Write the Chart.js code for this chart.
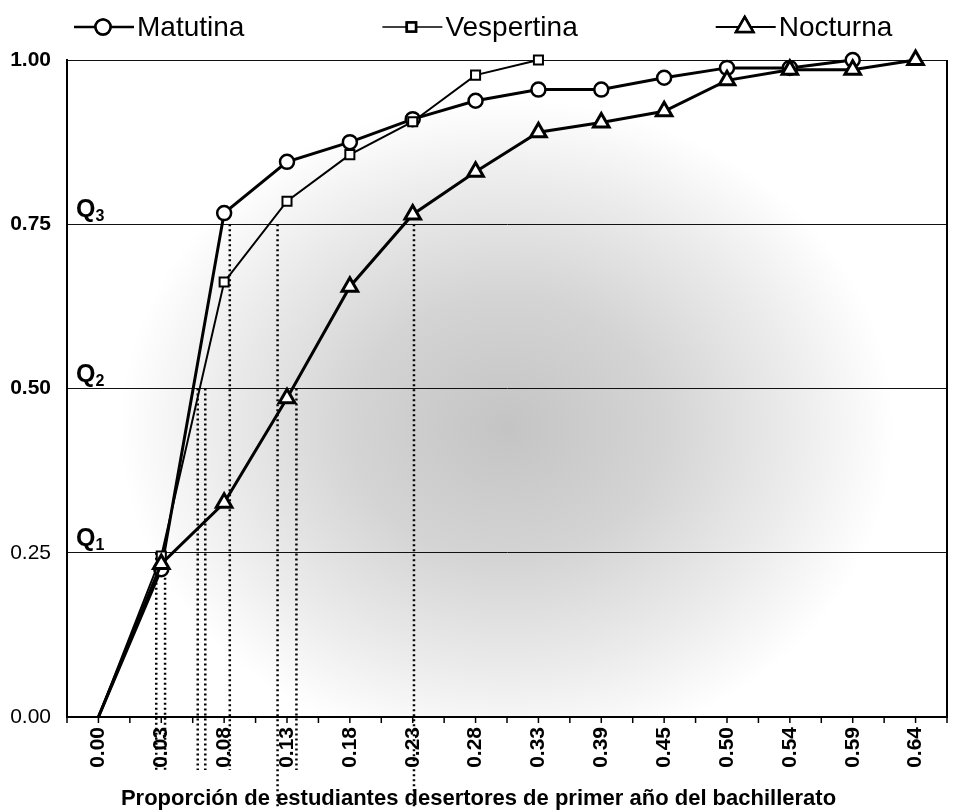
<!DOCTYPE html>
<html><head><meta charset="utf-8">
<script src="https://cdn.jsdelivr.net/npm/chart.js@4.4.0/dist/chart.umd.min.js"></script>
<style>html,body{margin:0;padding:0;background:#fff}#wrap{width:959px;height:810px;position:relative}</style>
</head><body><div id="wrap"><canvas id="c"></canvas></div>
<script>
// ---- data ----
const categories = ['0.00','0.03','0.08','0.13','0.18','0.23','0.28','0.33','0.39','0.45','0.50','0.54','0.59','0.64'];
const seriesNames = ['Matutina','Vespertina','Nocturna'];
const matutina   = [0, 0.225, 0.767, 0.845, 0.875, 0.91, 0.938, 0.955, 0.955, 0.973, 0.988, 0.988, 1.0, null];
const vespertina = [0, 0.245, 0.662, 0.785, 0.856, 0.906, 0.977, 1.0, null, null, null, null, null, null];
const nocturna   = [0, 0.233, 0.326, 0.485, 0.655, 0.765, 0.83, 0.89, 0.905, 0.922, 0.969, 0.985, 0.985, 1.0];
const yTicks = [0, 0.25, 0.5, 0.75, 1.0];
const yBoldTicks = [0.5, 0.75, 1.0];
const quartileLevels = [0.25, 0.5, 0.75];
// where the dotted quartile guides meet the category axis (category-index units)
const quartileCuts = [[0.92, 1.06], [1.58, 1.70, 3.15], [2.09, 2.85, 5.02]];
const longCuts = [2.85, 5.02];
const xTitle = 'Proporción de estudiantes desertores de primer año del bachillerato';

const FAM = "'Liberation Sans', Arial, Helvetica, sans-serif";
Chart.defaults.font.family = FAM;
Chart.defaults.color = '#000';

const markerStyles = [
  {pointStyle:'circle', radius:7, pb:2.5, lw:3, legendLW:2.5, legendR:7.5},
  {pointStyle:'rect', radius:6.4, pb:2, lw:2, legendLW:1.5, legendR:6.5},
  {pointStyle:'triangle', radius:9, pb:3, lw:3, legendLW:2, legendR:10}
];

function drawMarker(ctx, style, x, y, r, bw){
  ctx.save();
  ctx.lineWidth = bw; ctx.strokeStyle = '#000'; ctx.fillStyle = '#fff';
  Chart.helpers.drawPoint(ctx, {pointStyle: style, radius: r, borderWidth: bw, rotation: 0}, x, y);
  ctx.fill(); ctx.stroke();
  ctx.restore();
}

const decor = {
  id: 'decor',
  beforeDraw(chart){
    const {ctx, chartArea:a} = chart;
    ctx.save();
    ctx.fillStyle = '#fff'; ctx.fillRect(0,0,chart.width,chart.height);
    ctx.beginPath(); ctx.rect(a.left, a.top, a.right-a.left, a.bottom-a.top); ctx.clip();
    const cx = a.left + (a.right-a.left)*0.5, cy = a.top + (a.bottom-a.top)*0.56;
    const rx = (a.right-a.left)*0.44, ry = (a.bottom-a.top)*0.5;
    ctx.translate(cx, cy); ctx.scale(rx/ry, 1);
    const g = ctx.createRadialGradient(0,0,0,0,0,ry);
    g.addColorStop(0,'rgb(196,196,196)');
    g.addColorStop(0.4,'rgb(212,212,212)');
    g.addColorStop(0.75,'rgb(236,236,236)');
    g.addColorStop(1,'rgb(255,255,255)');
    ctx.fillStyle = g; ctx.fillRect(-ry*3,-ry*3,ry*6,ry*6);
    ctx.restore();
  },
  beforeDatasetsDraw(chart){
    const {ctx, chartArea:a, scales:{x, y}} = chart;
    ctx.save();
    // right border
    ctx.strokeStyle = '#000'; ctx.lineWidth = 2;
    ctx.beginPath(); ctx.moveTo(a.right, a.top); ctx.lineTo(a.right, a.bottom); ctx.stroke();
    // half-category tick marks under the axis
    ctx.lineWidth = 1.5;
    for (let v = -0.5; v <= categories.length - 0.5 + 1e-9; v += 0.5){
      const px = x.getPixelForValue(v);
      ctx.beginPath(); ctx.moveTo(px, a.bottom); ctx.lineTo(px, a.bottom + 6); ctx.stroke();
    }
    // dotted quartile guides
    ctx.lineWidth = 2.5; ctx.setLineDash([2, 3]);
    quartileLevels.forEach((q, k) => {
      quartileCuts[k].forEach(idx => {
        const px = x.getPixelForValue(idx);
        const end = longCuts.includes(idx) ? chart.height - 2 : a.bottom + 53;
        ctx.beginPath(); ctx.moveTo(px, y.getPixelForValue(q)); ctx.lineTo(px, end); ctx.stroke();
      });
    });
    ctx.restore();
  },
  afterDraw(chart){
    const {ctx, chartArea:a, scales:{y}} = chart;
    ctx.save();
    ctx.fillStyle = '#000'; ctx.textAlign = 'left'; ctx.textBaseline = 'alphabetic';
    // Q labels
    quartileLevels.forEach((q, k) => {
      const py = y.getPixelForValue(q) - 7;
      ctx.font = 'bold 25px ' + FAM;
      ctx.fillText('Q', a.left + 9, py);
      const w = ctx.measureText('Q').width;
      ctx.font = 'bold 16px ' + FAM;
      ctx.fillText(String(k + 1), a.left + 9 + w, py + 4);
    });
    // legend
    let x0 = a.left + 7;
    const ly = 27;
    chart.data.datasets.forEach((ds, i) => {
      const m = markerStyles[i];
      ctx.strokeStyle = '#000'; ctx.lineWidth = m.legendLW; ctx.setLineDash([]);
      ctx.beginPath(); ctx.moveTo(x0, ly); ctx.lineTo(x0 + 60, ly); ctx.stroke();
      drawMarker(ctx, m.pointStyle, x0 + 29, ly, m.legendR, 2.5);
      ctx.font = '28px ' + FAM; ctx.textBaseline = 'middle'; ctx.fillStyle = '#000';
      ctx.fillText(ds.label, x0 + 63, ly + 1);
      x0 = x0 + 63 + ctx.measureText(ds.label).width + 138;
    });
    ctx.restore();
  }
};

const seriesData = [matutina, vespertina, nocturna];
const orders = [2, 1, 0];
const datasets = seriesNames.map((name, i) => ({
  label: name,
  data: seriesData[i],
  borderColor: '#000',
  borderWidth: markerStyles[i].lw,
  pointStyle: markerStyles[i].pointStyle,
  // the origin of each ogive is drawn without a marker
  pointRadius: c => c.dataIndex === 0 ? 0 : markerStyles[i].radius,
  pointHoverRadius: c => c.dataIndex === 0 ? 0 : markerStyles[i].radius,
  pointBorderWidth: markerStyles[i].pb,
  pointBackgroundColor: '#fff',
  pointBorderColor: '#000',
  tension: 0,
  fill: false,
  clip: false,
  spanGaps: false,
  order: orders[i]
}));

new Chart(document.getElementById('c'), {
  type: 'line',
  data: { labels: categories, datasets },
  options: {
    responsive: true,
    maintainAspectRatio: false,
    animation: false,
    layout: { padding: { top: 60, right: 2, bottom: 0, left: 0 } },
    plugins: {
      legend: { display: false },
      tooltip: { enabled: false },
      title: {
        display: true, position: 'bottom', text: xTitle, color: '#000',
        font: { size: 22, weight: 'bold', lineHeight: 1 },
        padding: { top: 0, bottom: 0 }
      }
    },
    scales: {
      x: {
        type: 'category', offset: true,
        grid: { display: false, drawTicks: false },
        border: { display: true, color: '#000', width: 2 },
        ticks: { autoSkip: false, minRotation: 90, maxRotation: 90, padding: 10,
                 font: { size: 21, weight: 'bold' }, color: '#000' },
        afterFit: s => { s.height = 71; }
      },
      y: {
        min: 0, max: 1,
        afterBuildTicks: s => { s.ticks = yTicks.map(v => ({ value: v })); },
        grid: { color: '#111', lineWidth: 1, drawTicks: false },
        border: { display: true, color: '#000', width: 2 },
        ticks: {
          padding: 16, color: '#000',
          callback: v => Number(v).toFixed(2),
          font: ctx => ({ size: 21, weight: (ctx.tick && yBoldTicks.includes(ctx.tick.value)) ? 'bold' : 'normal' })
        },
        afterFit: s => { s.width = 67; }
      }
    }
  },
  plugins: [decor]
});
</script>
</body></html>
